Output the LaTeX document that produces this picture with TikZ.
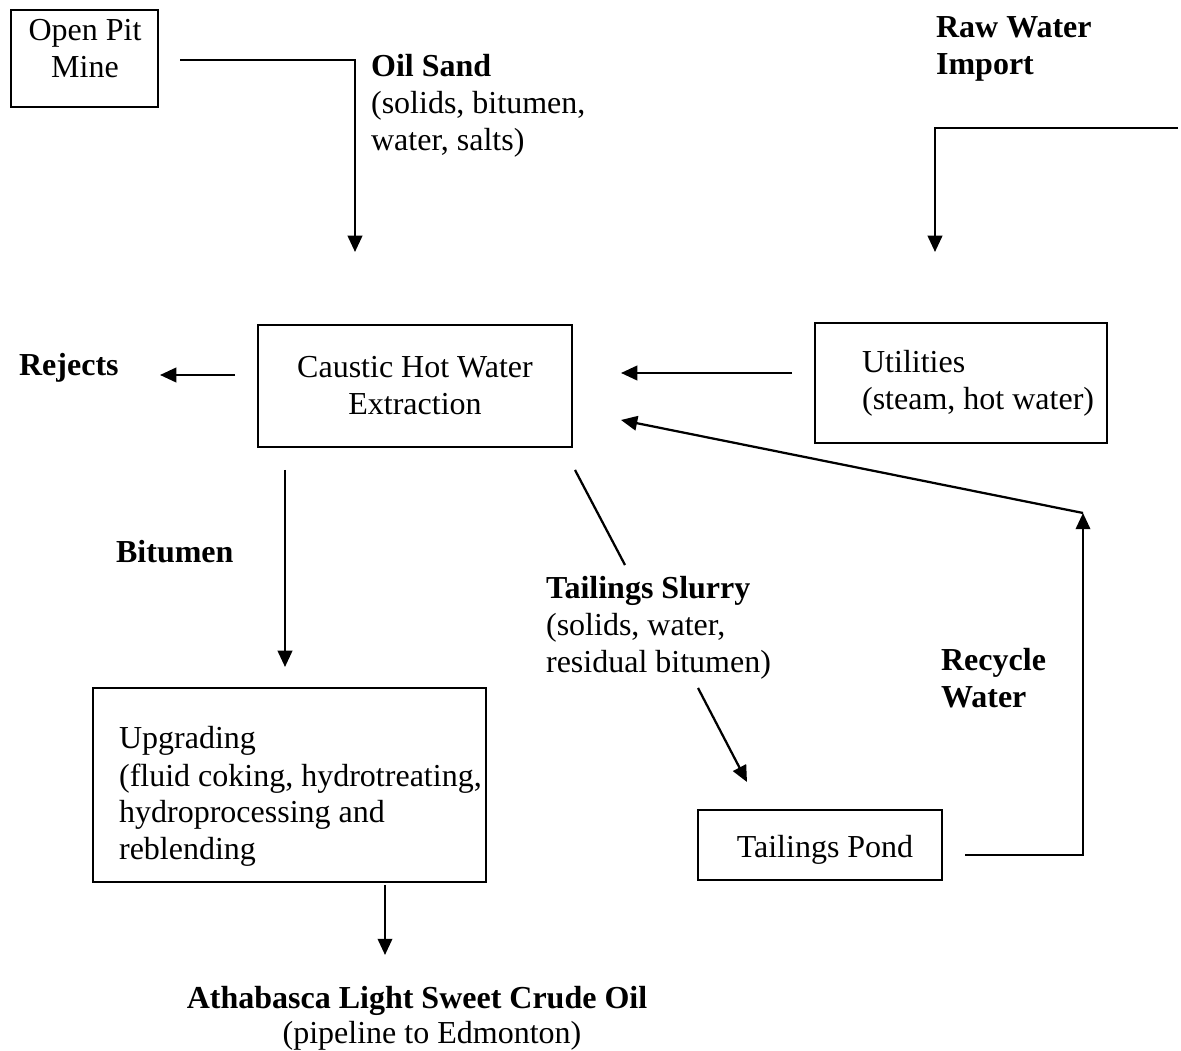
\documentclass[tikz,border=0pt]{standalone}
\usepackage{fontspec}
\setmainfont{Liberation Serif}
\usetikzlibrary{arrows.meta}

\begin{document}
\begin{tikzpicture}[x=0.4pt, y=-0.4pt, >={Triangle[length=6.5pt,width=5.8pt]},
    line width=0.9pt, font=\fontsize{12.8}{14.8}\selectfont,
    box/.style={draw, line width=0.8pt, inner sep=0pt, align=center},
    txt/.style={inner sep=0pt, align=left, anchor=base west}]
    \useasboundingbox (0,0) rectangle (1181,1051);
    % boxes (text anchors sit on the last line)
    \node[box, minimum width=58.8pt, minimum height=38.8pt] (mine) at (84.5,58.5) {};
    \node[box, minimum width=125.6pt, minimum height=48.8pt] (extr) at (415,386) {Caustic Hot Water\\Extraction};
    \node[box, minimum width=116.8pt, minimum height=48pt] (util) at (961,383) {};
    \node[box, minimum width=157.2pt, minimum height=77.6pt] (upg) at (289.5,785) {};
    \node[box, minimum width=97.6pt, minimum height=28pt] (pond) at (820,845) {};
    % texts
    \node[txt, align=center, anchor=base] (minetxt) at (85,78) {Open Pit\\Mine};
    \node[txt] (utiltxt) at (861,410) {Utilities\\(steam, hot water)};
    \node[txt] (upgtxt) at (118,860) {Upgrading\\(fluid coking, hydrotreating,\\hydroprocessing and\\reblending};
    \node[txt, anchor=base] (pondtxt) at (825,857) {Tailings Pond};
    \node[txt] (oilsand) at (370,151) {\textbf{Oil Sand}\\(solids, bitumen,\\water, salts)};
    \node[txt] (raw) at (935,75) {\textbf{Raw Water}\\\textbf{Import}};
    \node[txt] (rej) at (18,376) {\textbf{Rejects}};
    \node[txt] (bit) at (115,563) {\textbf{Bitumen}};
    \node[txt] (slurry) at (545,673) {\textbf{Tailings Slurry}\\(solids, water,\\residual bitumen)};
    \node[txt] (recyc) at (940,708) {\textbf{Recycle}\\\textbf{Water}};
    \node[txt, anchor=base] (crude) at (417,1008) {\textbf{Athabasca Light Sweet Crude Oil}};
    \node[txt, anchor=base] (pipe) at (432,1043) {(pipeline to Edmonton)};
    % line ends
    \coordinate (oilA) at (180,60);
    \coordinate (oilB) at (355,252);
    \coordinate (rawA) at (1178,128);
    \coordinate (rawB) at (935,252);
    \coordinate (rejA) at (235,375);
    \coordinate (rejB) at (160,375);
    \coordinate (utA) at (792,373);
    \coordinate (utB) at (621,373);
    \coordinate (recA) at (965,855);
    \coordinate (recB) at (1083,513);
    \coordinate (recC) at (621,420);
    \coordinate (bitA) at (285,470);
    \coordinate (bitB) at (285,667);
    \coordinate (slA) at (575,470);
    \coordinate (slB) at (625,565);
    \coordinate (slC) at (698,688);
    \coordinate (slD) at (747,782);
    \coordinate (upA) at (385,885);
    \coordinate (upB) at (385,955);
    % connectors
    \draw[->] (oilA) -| (oilB);
    \draw[->] (rawA) -| (rawB);
    \draw[->] (rejA) -- (rejB);
    \draw[->] (utA) -- (utB);
    \draw[->] (recA) -| (recB);
    \draw[->] (recB) -- (recC);
    \draw[->] (bitA) -- (bitB);
    \draw (slA) -- (slB);
    \draw[->] (slC) -- (slD);
    \draw[->] (upA) -- (upB);
\end{tikzpicture}
\end{document}
